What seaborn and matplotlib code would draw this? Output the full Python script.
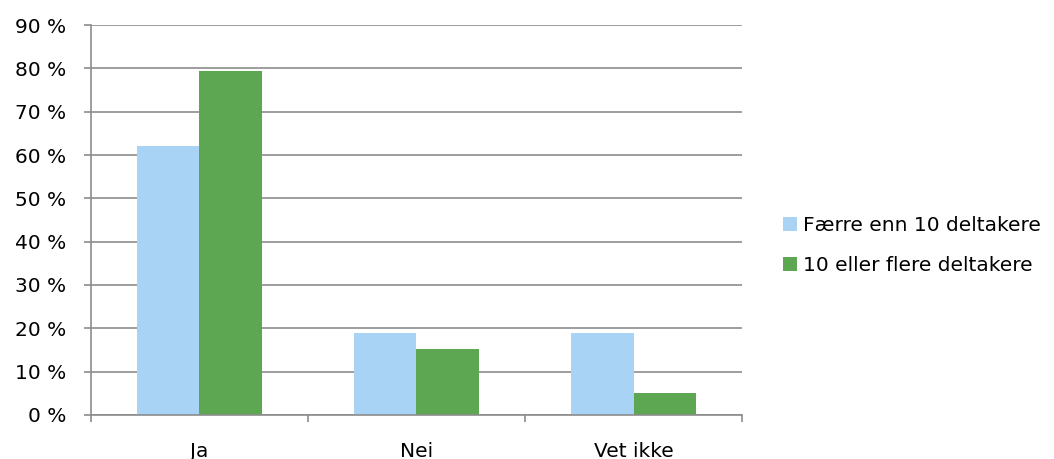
import matplotlib
matplotlib.use("Agg")
import matplotlib.pyplot as plt
from matplotlib.patches import Patch
from matplotlib.ticker import FixedLocator, PercentFormatter
import seaborn as sns
import pandas as pd

categories = ["Ja", "Nei", "Vet ikke"]
series_names = ["Færre enn 10 deltakere", "10 eller flere deltakere"]
faerre = [62.1, 18.9, 18.9]
flere = [79.4, 15.3, 5.0]
colors = ["#A9D3F5", "#5EA752"]

df = pd.DataFrame({
    "Svar": categories * 2,
    "Gruppe": [series_names[0]] * 3 + [series_names[1]] * 3,
    "Andel": faerre + flere,
})

sns.set_style("white")
plt.rcParams["font.family"] = ["DejaVu Sans"]
plt.rcParams["text.color"] = "#000000"

fs = 14.5
fig = plt.figure(figsize=(10.54, 4.59), dpi=100)
ax = fig.add_axes([0.0863, 0.0959, 0.6177, 0.8496])

sns.barplot(data=df, x="Svar", y="Andel", hue="Gruppe", order=categories,
            hue_order=series_names, palette=colors, width=0.572,
            saturation=1, ax=ax, legend=False, zorder=3)
for p in ax.patches:
    p.set_edgecolor("none")

grid_col = "#8C8C8C"
ax.set_ylim(0, 90)
ax.set_xlim(-0.5, 2.5)
ax.yaxis.set_major_locator(FixedLocator(range(0, 91, 10)))
ax.yaxis.set_major_formatter(PercentFormatter(decimals=0, symbol=" %"))
ax.grid(axis="y", color=grid_col, linewidth=1.2, zorder=0)
ax.set_axisbelow(True)

ax.set_xlabel("")
ax.set_ylabel("")
ax.xaxis.set_minor_locator(FixedLocator([-0.5, 0.5, 1.5, 2.5]))
ax.tick_params(axis="x", which="major", length=0, pad=19.5, labelsize=fs, colors="#000000")
ax.tick_params(axis="x", which="minor", length=5, width=1.2, color=grid_col, direction="out")
ax.tick_params(axis="y", which="major", length=5, width=1.2, color=grid_col,
               direction="out", pad=13, labelsize=fs, labelcolor="#000000")
ax.tick_params(axis="x", bottom=True, which="both")
ax.tick_params(axis="y", left=True)

for side in ["top", "right"]:
    ax.spines[side].set_visible(False)
for side in ["left", "bottom"]:
    ax.spines[side].set_color(grid_col)
    ax.spines[side].set_linewidth(1.2)
    ax.spines[side].set_zorder(4)

handles = [Patch(facecolor=c, edgecolor="none") for c in colors]
fig.legend(handles, series_names, loc="center left", bbox_to_anchor=(0.735, 0.465),
           frameon=False, fontsize=fs, handlelength=0.7, handleheight=0.7,
           handletextpad=0.3, labelspacing=1.05, borderaxespad=0,
           labelcolor="#000000")

fig.savefig("out.png", dpi=100)
